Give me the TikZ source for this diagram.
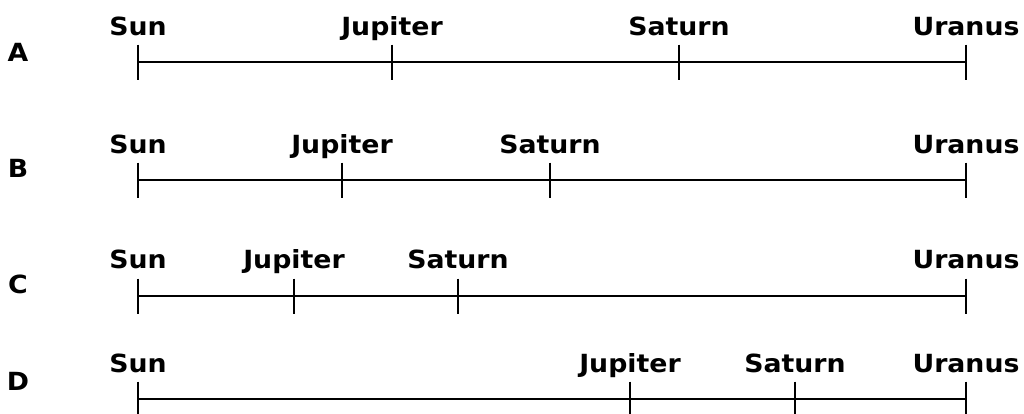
\documentclass[tikz,border=0pt]{standalone}
\usepackage{fontspec}
\setmainfont{DejaVu Sans}[BoldFeatures={FakeStretch=1.07}]
\begin{document}
\begin{tikzpicture}[x=1pt,y=-1pt,
  axis/.style={line width=2.6pt},
  tickmark/.style={line width=1.7pt},
  planet/.style={font=\bfseries\fontsize{25}{30}\selectfont, anchor=base, inner sep=0pt},
  rowlabel/.style={font=\bfseries\fontsize{25}{30}\selectfont, anchor=base, inner sep=0pt}]
\useasboundingbox (0,0) rectangle (1024,413);
% row / axis y / label baseline / row letter baseline / Jupiter x / Saturn x
\foreach \r/\ly/\by/\ry/\jx/\sx in {A/62/35/61/392/679, B/180/153/177/342/550,
                                     C/296/268/293/294/458, D/399/372/390/630/795}{
  \node[rowlabel] (\r-letter) at (18,\ry) {\r};
  \coordinate (\r-sun) at (138,\ly);
  \coordinate (\r-jup) at (\jx,\ly);
  \coordinate (\r-sat) at (\sx,\ly);
  \coordinate (\r-ura) at (966,\ly);
  \draw[axis] (\r-sun) -- (\r-ura);
  \foreach \p in {sun,jup,sat,ura}
    \draw[tickmark] (\r-\p) ++(0,-17.5) -- ++(0,35);
  \node[planet] (\r-sun-label) at (138,\by) {Sun};
  \node[planet] (\r-jup-label) at (\jx,\by) {Jupiter};
  \node[planet] (\r-sat-label) at (\sx,\by) {Saturn};
  \node[planet] (\r-ura-label) at (966,\by) {Uranus};
}
\end{tikzpicture}
\end{document}
